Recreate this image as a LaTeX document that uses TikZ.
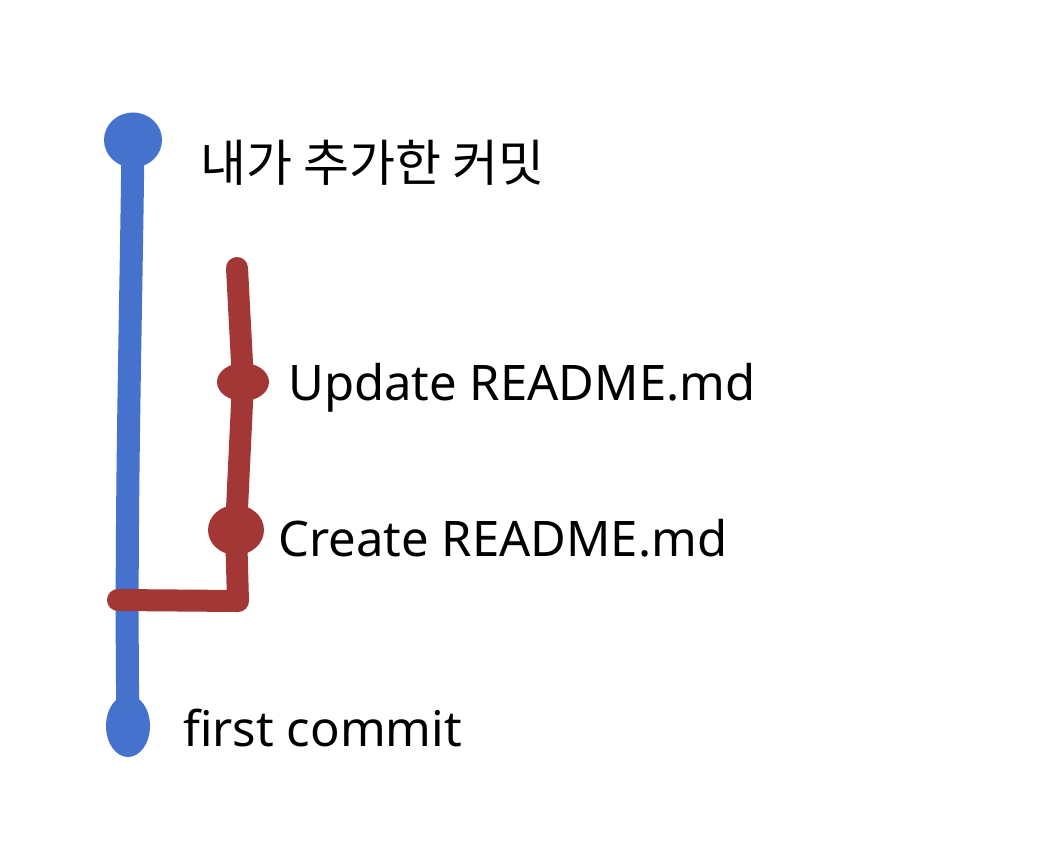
\documentclass[tikz,border=0pt]{standalone}
\usepackage{fontspec}
\setmainfont{Noto Sans}
\newfontfamily\krfont{Noto Sans CJK KR}
\usetikzlibrary{shapes.geometric}
\definecolor{gblue}{RGB}{68,114,204}
\definecolor{gred}{RGB}{163,55,54}
\tikzset{
  blob/.style={ellipse, fill=#1, draw=none, inner sep=0pt},
  trunk/.style={draw=#1, line width=23pt, line cap=round, line join=round},
  lbl/.style={anchor=base west, inner sep=0pt, font=\fontsize{49}{59}\selectfont},
}
\begin{document}
\begin{tikzpicture}[x=1pt,y=-1pt]
\useasboundingbox (0,0) rectangle (1042,846);
% blue main line
\node[blob=gblue, minimum width=58pt, minimum height=55pt] (top) at (133,140) {};
\node[blob=gblue, minimum width=44pt, minimum height=62pt] (first) at (128,726) {};
\draw[trunk=gblue] (top.center) .. controls (131,320) and (125,520) .. (first.center);
% red branch
\coordinate (redtop) at (237,268);
\coordinate (corner) at (238,601);
\coordinate (redend) at (118,600);
\node[blob=gred, minimum width=52pt, minimum height=38pt] (upd) at (243,382) {};
\node[blob=gred, minimum width=56pt, minimum height=50pt] (cre) at (236,530) {};
\draw[trunk=gred, line width=22pt] (redtop) -- (upd.center) -- (cre.center) -- (corner) -- (redend);
% labels
\node[lbl, font=\krfont\fontsize{50}{60}\selectfont] (tl) at (200,181) {내가 추가한 커밋};
\node[lbl] (ul) at (288,400) {Update README.md};
\node[lbl] (cl) at (278,556) {Create README.md};
\node[lbl] (fl) at (183,746) {first commit};
\end{tikzpicture}
\end{document}
